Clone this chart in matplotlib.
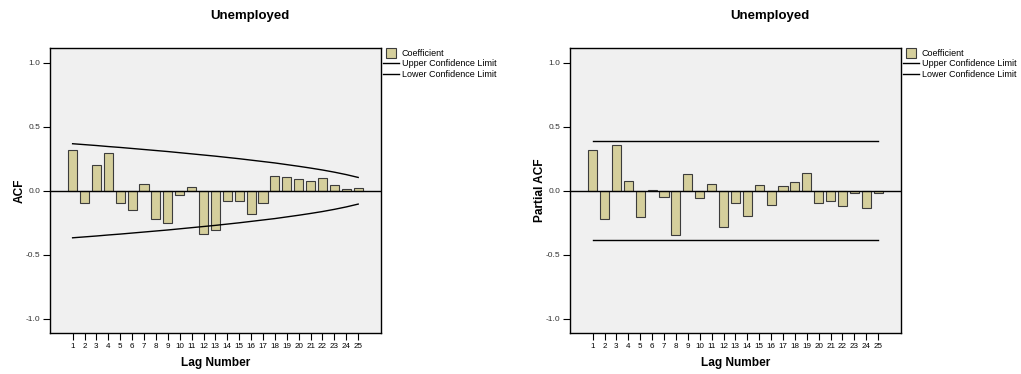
import matplotlib.pyplot as plt
from matplotlib.lines import Line2D

plt.rcParams["font.family"] = ["Liberation Sans", "DejaVu Sans"]

lags = list(range(1, 26))

acf = [0.32, -0.094, 0.20, 0.297, -0.099, -0.148, 0.049, -0.219, -0.253, -0.031,
       0.026, -0.341, -0.305, -0.076, -0.078, -0.185, -0.094, 0.112, 0.104, 0.094,
       0.073, 0.096, 0.042, 0.010, 0.018]

acf_upper = [0.367, 0.360, 0.353, 0.345, 0.338, 0.330, 0.322, 0.314, 0.306, 0.297,
             0.288, 0.279, 0.270, 0.260, 0.250, 0.239, 0.228, 0.217, 0.204, 0.191,
             0.177, 0.162, 0.145, 0.126, 0.104]
acf_lower = [-v for v in acf_upper]

pacf = [0.32, -0.219, 0.357, 0.078, -0.208, 0.008, -0.052, -0.349, 0.130, -0.060,
        0.055, -0.281, -0.099, -0.198, 0.042, -0.115, 0.034, 0.065, 0.135, -0.094,
        -0.083, -0.120, -0.021, -0.135, -0.021]

pacf_upper = [0.387] * 25
pacf_lower = [-0.385] * 25

bar_color = "#d5cf9c"
edge_color = "#3c3c3c"
bg_color = "#f0f0f0"

fig = plt.figure(figsize=(10.21, 3.74), dpi=100)


def acf_panel(left, values, upper, lower, ylabel, title_x, legend_x):
    ax = fig.add_axes([left, 0.1096, 0.324, 0.7624])
    ax.set_facecolor(bg_color)
    ax.bar(lags, values, width=0.76, color=bar_color, edgecolor=edge_color, linewidth=0.8, zorder=2)
    ax.plot(lags, upper, color="black", linewidth=1, zorder=3)
    ax.plot(lags, lower, color="black", linewidth=1, zorder=3)
    ax.axhline(0, color="black", linewidth=1, zorder=3)

    ax.set_xlim(-0.9, 26.9)
    ax.set_ylim(-1.11, 1.115)
    ax.set_xticks(lags)
    ax.set_xticklabels([str(l) for l in lags], fontsize=5.8)
    ax.set_yticks([-1.0, -0.5, 0.0, 0.5, 1.0])
    ax.set_yticklabels(["-1.0", "-0.5", "0.0", "0.5", "1.0"], fontsize=6, color="#333333")
    ax.tick_params(direction="out", length=5, width=0.8, pad=2)
    for sp in ax.spines.values():
        sp.set_linewidth(1)
    ax.set_xlabel("Lag Number", fontsize=8.6, fontweight="bold", labelpad=5)
    ax.set_ylabel(ylabel, fontsize=8.6, fontweight="bold", labelpad=0)

    fig.text(title_x, 0.957, "Unemployed", fontsize=9.5, fontweight="bold", ha="center", va="center")

    handles = [
        Line2D([], [], marker="s", linestyle="none", markersize=6.5,
               markerfacecolor=bar_color, markeredgecolor=edge_color, markeredgewidth=0.8),
        Line2D([], [], color="black", linewidth=1),
        Line2D([], [], color="black", linewidth=1),
    ]
    labels = ["Coefficient", "Upper Confidence Limit", "Lower Confidence Limit"]
    fig.legend(handles, labels, loc="upper left", bbox_to_anchor=(legend_x, 1 - 49 / 374),
               frameon=False, fontsize=6.5, handlelength=1.8, handletextpad=0.3,
               labelspacing=0.15, borderaxespad=0, borderpad=0)
    return ax


acf_panel(50 / 1021, acf, acf_upper, acf_lower, "ACF", 250 / 1021, 383 / 1021)
acf_panel(570 / 1021, pacf, pacf_upper, pacf_lower, "Partial ACF", 770 / 1021, 903 / 1021)

fig.savefig("out.png", dpi=100, facecolor="white")
